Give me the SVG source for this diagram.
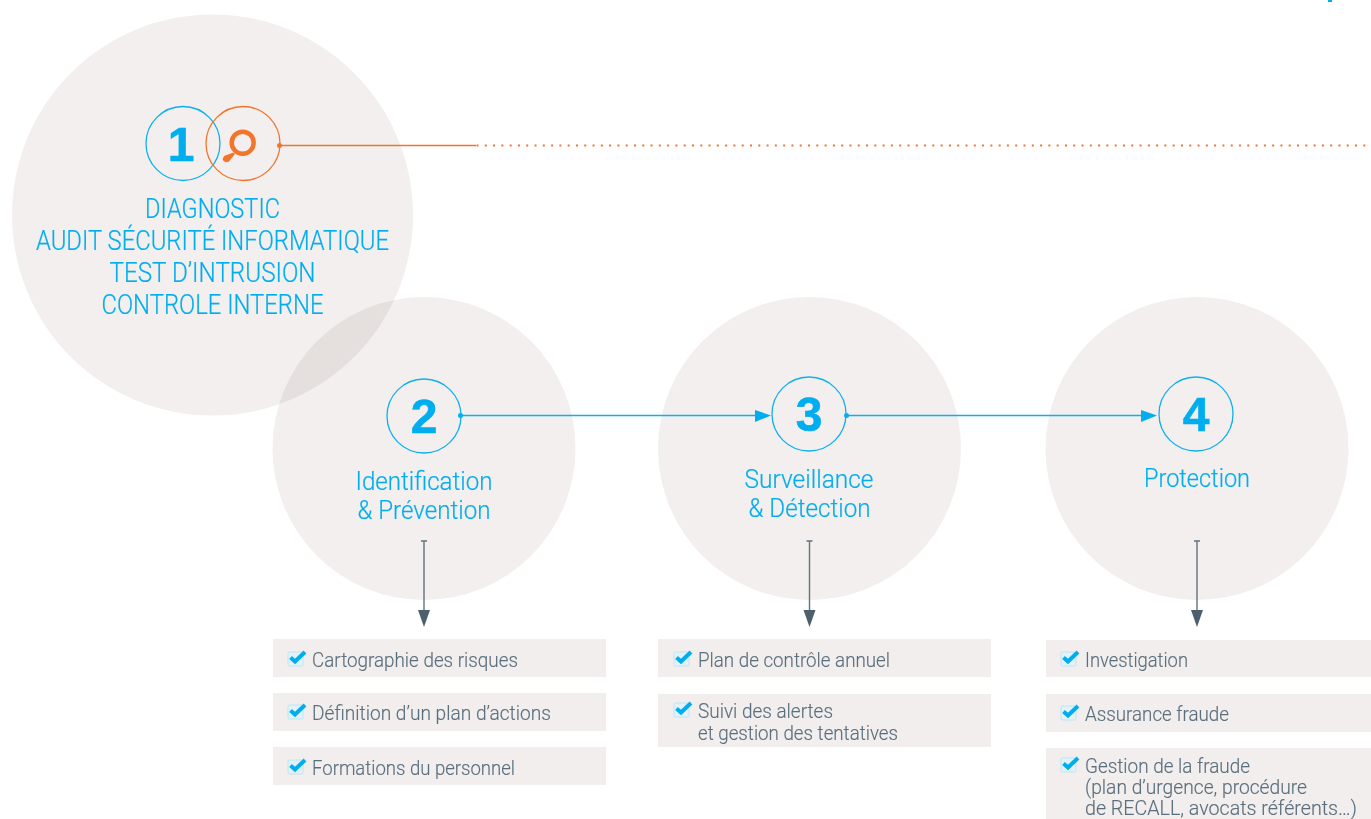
<svg xmlns="http://www.w3.org/2000/svg" width="1371" height="819" viewBox="0 0 1371 819">
<style>
.bg{fill:#f2efee;mix-blend-mode:multiply}
.ring{fill:none;stroke:#0fb0ee;stroke-width:1.3}
.org{fill:none;stroke:#f3742b;stroke-width:1.3}
.num{font:bold 48px "Liberation Sans",Arial,sans-serif;fill:#00aeef;stroke:#00aeef;stroke-width:.6;text-anchor:middle}
.t1{font:300 27px Roboto,"Liberation Sans",sans-serif;fill:#00aeef;stroke:#00aeef;stroke-width:.2;text-anchor:middle}
.t2{font:300 25px Roboto,"Liberation Sans",sans-serif;fill:#00aeef;stroke:#00aeef;stroke-width:.2;text-anchor:middle}
.li{font:300 20px Roboto,"Liberation Sans",sans-serif;fill:#5b6f7d;stroke:#5b6f7d;stroke-width:.15}
.box{fill:#f1eeed}
.cb{fill:#e3f2f8;stroke:#a9dff4;stroke-width:.7}
.ck{fill:none;stroke:#00aeef;stroke-width:4}
.bl{stroke:#0fb0ee;stroke-width:1.3;fill:none}
.gr{stroke:#63727e;stroke-width:1.4;fill:none}
</style>
<defs>
<g id="check"><rect class="cb" x="0" y="2" width="15" height="14" rx="1.5"/><path class="ck" d="M2.500 7.500 L7 11.500 L17 2"/></g>
</defs>
<rect x="0" y="0" width="1371" height="819" fill="#fff"/>
<rect x="1328" y="0" width="4" height="2" fill="#00aeef"/>
<g id="node-1-bg"><circle class="bg" cx="212.500" cy="215" r="200.500"/></g>
<g id="node-2-bg"><circle class="bg" cx="424" cy="448.500" r="151.500"/></g>
<g id="node-3-bg"><circle class="bg" cx="809.500" cy="448.500" r="151.500"/></g>
<g id="node-4-bg"><circle class="bg" cx="1197" cy="448.500" r="151.500"/></g>
<g id="connectors">
<path d="M279 145.500H476" stroke="#f3742b" stroke-width="1.4" fill="none"/>
<path d="M476.500 145.500H1366" stroke="#f3742b" stroke-width="2" stroke-dasharray="2 6.288" fill="none"/>
<circle cx="279.500" cy="145.500" r="2.500" fill="#f3742b"/>
<path class="bl" d="M460 415.500H757"/><circle cx="460.500" cy="415.500" r="2.500" fill="#00aeef"/>
<path d="M755 410V422L771 415.500Z" fill="#00aeef"/>
<path class="bl" d="M846 415.500H1143"/><circle cx="846.500" cy="415.500" r="2.500" fill="#00aeef"/>
<path d="M1141 410V422L1157 415.500Z" fill="#00aeef"/>
<path class="gr" d="M424 541V612M421 541H427"/><path d="M418 610H430L424 627Z" fill="#4d5f6c"/>
<path class="gr" d="M809.500 541V612M806.500 541H812.500"/><path d="M803.500 610H815.500L809.500 627Z" fill="#4d5f6c"/>
<path class="gr" d="M1197 541V612M1194 541H1200"/><path d="M1191 610H1203L1197 627Z" fill="#4d5f6c"/>
</g>
<g id="node-1">
<circle class="ring" cx="183" cy="143.500" r="37"/>
<text class="num" x="181" y="161">1</text>
<circle class="org" cx="243" cy="143.500" r="37"/>
<circle cx="242.700" cy="142.700" r="11" fill="none" stroke="#f3742b" stroke-width="4.500"/>
<path d="M233.500 152.500L235 154L229 161.500Q226 163 223.500 161Q222 158.500 224 156Z" fill="#f3742b"/>
<text class="t1" x="212.500" y="218" textLength="135" lengthAdjust="spacingAndGlyphs">DIAGNOSTIC</text>
<text class="t1" x="212.500" y="250" textLength="353" lengthAdjust="spacingAndGlyphs">AUDIT SÉCURITÉ INFORMATIQUE</text>
<text class="t1" x="212.500" y="282" textLength="206" lengthAdjust="spacingAndGlyphs">TEST D’INTRUSION</text>
<text class="t1" x="212.500" y="314" textLength="222" lengthAdjust="spacingAndGlyphs">CONTROLE INTERNE</text>
</g>
<g id="node-2">
<circle class="ring" cx="424" cy="416" r="37"/>
<text class="num" x="424" y="433">2</text>
<text class="t2" x="424" y="490" textLength="137" lengthAdjust="spacingAndGlyphs">Identification</text>
<text class="t2" x="424" y="519" textLength="133" lengthAdjust="spacingAndGlyphs">&amp; Prévention</text>
</g>
<g id="node-3">
<circle class="ring" cx="809" cy="414" r="37"/>
<text class="num" x="809" y="431">3</text>
<text class="t2" x="809" y="488" textLength="129" lengthAdjust="spacingAndGlyphs">Surveillance</text>
<text class="t2" x="809.500" y="517" textLength="122" lengthAdjust="spacingAndGlyphs">&amp; Détection</text>
</g>
<g id="node-4">
<circle class="ring" cx="1196" cy="414" r="37"/>
<text class="num" x="1196" y="431">4</text>
<text class="t2" x="1197" y="487" textLength="106" lengthAdjust="spacingAndGlyphs">Protection</text>
</g>
<g id="list-2">
<rect class="box" x="273" y="639" width="333" height="38"/><use href="#check" x="288" y="650"/><text class="li" x="312" y="667" textLength="206" lengthAdjust="spacingAndGlyphs">Cartographie des risques</text>
<rect class="box" x="273" y="693" width="333" height="38"/><use href="#check" x="288" y="703"/><text class="li" x="312" y="720" textLength="239" lengthAdjust="spacingAndGlyphs">Définition d’un plan d’actions</text>
<rect class="box" x="273" y="747" width="333" height="38"/><use href="#check" x="288" y="758"/><text class="li" x="312" y="775" textLength="203" lengthAdjust="spacingAndGlyphs">Formations du personnel</text>
</g>
<g id="list-3">
<rect class="box" x="658" y="639" width="333" height="38"/><use href="#check" x="674" y="650"/><text class="li" x="698" y="667" textLength="192" lengthAdjust="spacingAndGlyphs">Plan de contrôle annuel</text>
<rect class="box" x="658" y="694" width="333" height="53"/><use href="#check" x="674" y="701"/><text class="li" x="698" y="718" textLength="135" lengthAdjust="spacingAndGlyphs">Suivi des alertes</text><text class="li" x="698" y="740" textLength="200" lengthAdjust="spacingAndGlyphs">et gestion des tentatives</text>
</g>
<g id="list-4">
<rect class="box" x="1046" y="640" width="325" height="37"/><use href="#check" x="1061" y="650"/><text class="li" x="1085" y="667" textLength="103" lengthAdjust="spacingAndGlyphs">Investigation</text>
<rect class="box" x="1046" y="694" width="325" height="38"/><use href="#check" x="1061" y="704"/><text class="li" x="1085" y="721" textLength="144" lengthAdjust="spacingAndGlyphs">Assurance fraude</text>
<rect class="box" x="1046" y="748" width="325" height="71"/><use href="#check" x="1061" y="756"/><text class="li" x="1085" y="773" textLength="165" lengthAdjust="spacingAndGlyphs">Gestion de la fraude</text><text class="li" x="1085" y="794" textLength="222" lengthAdjust="spacingAndGlyphs">(plan d’urgence, procédure</text><text class="li" x="1085" y="815" textLength="272" lengthAdjust="spacingAndGlyphs">de RECALL, avocats référents…)</text>
</g>
</svg>
